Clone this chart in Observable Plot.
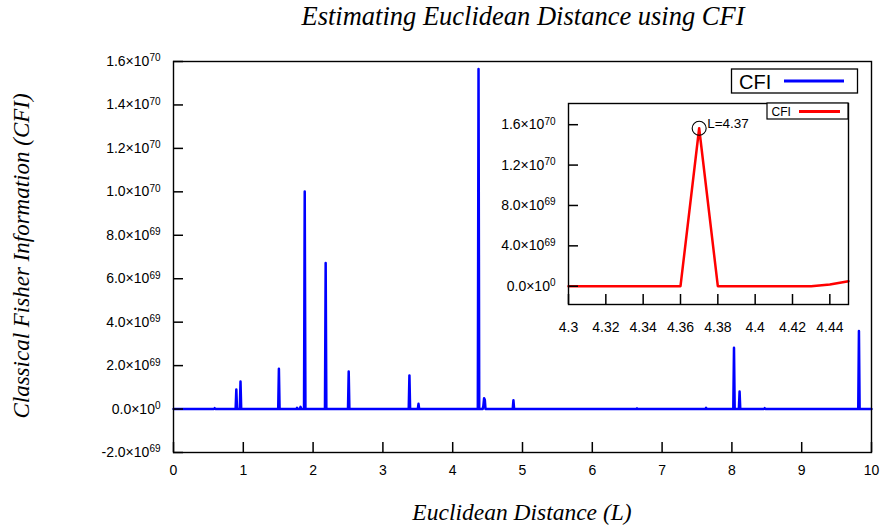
<!DOCTYPE html>
<html>
<head>
<meta charset="utf-8">
<script src="https://cdn.jsdelivr.net/npm/d3@7"></script>
<script src="https://cdn.jsdelivr.net/npm/@observablehq/plot@0.6"></script>
<style>
  html, body { margin: 0; padding: 0; background: #fff; }
  #wrap { position: relative; width: 882px; height: 525px; overflow: hidden; background: #fff; }
  #wrap > svg { position: absolute; }
</style>
</head>
<body>
<div id="wrap"></div>
<script>
// ---------- data ----------
const mainL = [0,
  0.58, 0.59, 0.60,
  0.89, 0.90, 0.91,
  0.95, 0.96, 0.97,
  1.50, 1.51, 1.52,
  1.76, 1.77, 1.78,
  1.81, 1.82, 1.83,
  1.87, 1.88, 1.89,
  2.17, 2.18, 2.19,
  2.50, 2.51, 2.52,
  3.37, 3.38, 3.39,
  3.50, 3.51, 3.52,
  4.36, 4.37, 4.38,
  4.43, 4.44, 4.45, 4.46, 4.47,
  4.86, 4.87, 4.88,
  6.63, 6.64, 6.65,
  7.62, 7.63, 7.64,
  8.02, 8.03, 8.04,
  8.10, 8.11, 8.12,
  8.46, 8.47, 8.48,
  9.81, 9.82, 9.83,
  10];
const mainCFI = [0,
  0, 4e67, 0,
  0, 9.0e68, 0,
  0, 1.27e69, 0,
  0, 1.86e69, 0,
  0, 6e67, 0,
  0, 1.0e68, 0,
  0, 1.002e70, 0,
  0, 6.72e69, 0,
  0, 1.73e69, 0,
  0, 1.55e69, 0,
  0, 2.4e68, 0,
  0, 1.565e70, 0,
  0, 1.7e68, 5.0e68, 4.3e68, 0,
  0, 4.0e68, 0,
  0, 3e67, 0,
  0, 6e67, 0,
  0, 2.82e69, 0,
  0, 8.1e68, 0,
  0, 4e67, 0,
  0, 3.59e69, 0,
  0];

const insetL   = [4.30, 4.31, 4.32, 4.33, 4.34, 4.35, 4.36, 4.37, 4.38, 4.39, 4.40, 4.41, 4.42, 4.43, 4.44, 4.45];
const insetCFI = [0, 0, 0, 0, 0, 0, 0, 1.565e70, 0, 0, 0, 0, 0, 0, 1.7e68, 5.0e68];

const peakL = [4.37];
const peakCFI = [1.565e70];
const peakLabel = ["L=4.37"];

const xTicks = [0, 1, 2, 3, 4, 5, 6, 7, 8, 9, 10];
const xTickLabels = ["0", "1", "2", "3", "4", "5", "6", "7", "8", "9", "10"];
const yTicks = [-2e69, 0, 2e69, 4e69, 6e69, 8e69, 1.0e70, 1.2e70, 1.4e70, 1.6e70];
const yTickLabels = ["-2.0×10^69", "0.0×10^0", "2.0×10^69", "4.0×10^69", "6.0×10^69", "8.0×10^69",
                     "1.0×10^70", "1.2×10^70", "1.4×10^70", "1.6×10^70"];

const insetXTicks = [4.30, 4.32, 4.34, 4.36, 4.38, 4.40, 4.42, 4.44];
const insetXTickLabels = ["4.3", "4.32", "4.34", "4.36", "4.38", "4.4", "4.42", "4.44"];
const insetYTicks = [0, 4e69, 8e69, 1.2e70, 1.6e70];
const insetYTickLabels = ["0.0×10^0", "4.0×10^69", "8.0×10^69", "1.2×10^70", "1.6×10^70"];

const titleText = "Estimating Euclidean Distance using CFI";
const xLabelText = "Euclidean Distance (L)";
const yLabelText = "Classical Fisher Information (CFI)";
const seriesName = "CFI";

// ---------- build tables ----------
const mainData = mainL.map((L, i) => ({L, CFI: mainCFI[i]}));
const insetData = insetL.map((L, i) => ({L, CFI: insetCFI[i]}));
const peakData = peakL.map((L, i) => ({L, CFI: peakCFI[i], label: peakLabel[i]}));
const fmt = (ticks, labels) => { const m = new Map(ticks.map((t, i) => [t, labels[i]])); return d => m.get(d); };

const wrap = document.getElementById("wrap");
const font = "'Liberation Sans', Arial, sans-serif";
const serif = "'Liberation Serif', 'Times New Roman', serif";

// inward tick marks (10 px long), expressed in data units of each scale
const TICK = 10;
function inwardTicks(xt, yt, xd, yd, plotW, plotH) {
  const dxu = (xd[1] - xd[0]) * TICK / plotW;
  const dyu = (yd[1] - yd[0]) * TICK / plotH;
  return [
    Plot.ruleY(yt, {y: d => d, x1: xd[0], x2: xd[0] + dxu, stroke: "black", strokeWidth: 1.5}),
    Plot.ruleX(xt, {x: d => d, y1: yd[0], y2: yd[0] + dyu, stroke: "black", strokeWidth: 1.5})
  ];
}

function superscripts(svg) {
  svg.querySelectorAll("text").forEach(t => {
    const s = t.textContent;
    if (!s.includes("^")) return;
    const [base, exp] = s.split("^");
    t.textContent = "";
    const a = document.createElementNS("http://www.w3.org/2000/svg", "tspan");
    a.textContent = base;
    const b = document.createElementNS("http://www.w3.org/2000/svg", "tspan");
    b.textContent = exp;
    b.setAttribute("dy", "-0.45em");
    b.setAttribute("font-size", "10px");
    t.appendChild(a); t.appendChild(b);
  });
}

// ---------- main chart ----------
const M = {w: 882, h: 525, l: 173, r: 11, t: 61, b: 73};
const xDomain = [0, 10], yDomain = [-2e69, 1.6e70];
const main = Plot.plot({
  width: M.w, height: M.h,
  marginLeft: M.l, marginRight: M.r, marginTop: M.t, marginBottom: M.b,
  style: {fontFamily: font, fontSize: "14px", color: "black", background: "transparent"},
  x: {domain: xDomain},
  y: {domain: yDomain},
  marks: [
    Plot.line(mainData, {x: "L", y: "CFI", stroke: "#0000ff", strokeWidth: 2.5}),
    ...inwardTicks(xTicks, yTicks, xDomain, yDomain, M.w - M.l - M.r, M.h - M.t - M.b),
    Plot.axisY({anchor: "left", ticks: yTicks, tickSize: 0, tickPadding: 13, tickFormat: fmt(yTicks, yTickLabels), label: null, fontSize: 14}),
    Plot.axisX({anchor: "bottom", ticks: xTicks, tickSize: 0, tickPadding: 13, tickFormat: fmt(xTicks, xTickLabels), label: null, fontSize: 14}),
    Plot.frame({stroke: "black", strokeWidth: 1.4})
  ]
});
main.style.left = "0px"; main.style.top = "0px";
superscripts(main);
wrap.appendChild(main);

// ---------- inset chart ----------
const I = {w: 372, h: 252, l: 80, r: 12, t: 10, b: 41};
const ixDomain = [4.30, 4.45], iyDomain = [-1.81e69, 1.81e70];
const inset = Plot.plot({
  width: I.w, height: I.h,
  marginLeft: I.l, marginRight: I.r, marginTop: I.t, marginBottom: I.b,
  style: {fontFamily: font, fontSize: "14px", color: "black", background: "transparent"},
  x: {domain: ixDomain},
  y: {domain: iyDomain},
  marks: [
    Plot.frame({fill: "white"}),
    Plot.line(insetData, {x: "L", y: "CFI", stroke: "#ff0000", strokeWidth: 2.5}),
    Plot.dot(peakData, {x: "L", y: "CFI", r: 7, stroke: "black", fill: "none", strokeWidth: 1.1}),
    Plot.text(peakData, {x: "L", y: "CFI", text: "label", dx: 8, dy: -5, textAnchor: "start", fontSize: 13.5}),
    ...inwardTicks(insetXTicks, insetYTicks, ixDomain, iyDomain, I.w - I.l - I.r, I.h - I.t - I.b),
    Plot.axisY({anchor: "left", ticks: insetYTicks, tickSize: 0, tickPadding: 13, tickFormat: fmt(insetYTicks, insetYTickLabels), label: null, fontSize: 14}),
    Plot.axisX({anchor: "bottom", ticks: insetXTicks, tickSize: 0, tickPadding: 18, tickFormat: fmt(insetXTicks, insetXTickLabels), label: null, fontSize: 14}),
    Plot.frame({stroke: "black", strokeWidth: 1.4})
  ]
});
inset.style.left = "488px"; inset.style.top = "93px";
superscripts(inset);
wrap.appendChild(inset);

// ---------- overlay: titles and legends ----------
const ov = d3.select(wrap).append("svg")
  .attr("width", 882).attr("height", 525)
  .style("left", "0px").style("top", "0px");

ov.append("text").attr("x", 523).attr("y", 25).attr("text-anchor", "middle")
  .attr("font-family", serif).attr("font-style", "italic").attr("font-size", 26.5)
  .text(titleText);
ov.append("text").attr("x", 522).attr("y", 520).attr("text-anchor", "middle")
  .attr("font-family", serif).attr("font-style", "italic").attr("font-size", 23.5)
  .text(xLabelText);
ov.append("text").attr("transform", "translate(29,256) rotate(-90)").attr("text-anchor", "middle")
  .attr("font-family", serif).attr("font-style", "italic").attr("font-size", 23)
  .text(yLabelText);

// main legend
const lg = ov.append("g");
lg.append("rect").attr("x", 731.5).attr("y", 69).attr("width", 126).attr("height", 24)
  .attr("fill", "white").attr("stroke", "black").attr("stroke-width", 1.3);
lg.append("text").attr("x", 739).attr("y", 88.5).attr("font-family", font).attr("font-size", 20).text(seriesName);
lg.append("line").attr("x1", 784).attr("x2", 844).attr("y1", 81).attr("y2", 81)
  .attr("stroke", "#0000ff").attr("stroke-width", 3);

// inset legend
const lg2 = ov.append("g");
lg2.append("rect").attr("x", 767).attr("y", 103).attr("width", 81).attr("height", 16)
  .attr("fill", "white").attr("stroke", "black").attr("stroke-width", 1.2);
lg2.append("text").attr("x", 771.5).attr("y", 116).attr("font-family", font).attr("font-size", 12).text(seriesName);
lg2.append("line").attr("x1", 799).attr("x2", 840).attr("y1", 111.5).attr("y2", 111.5)
  .attr("stroke", "#ff0000").attr("stroke-width", 3);
</script>
</body>
</html>
